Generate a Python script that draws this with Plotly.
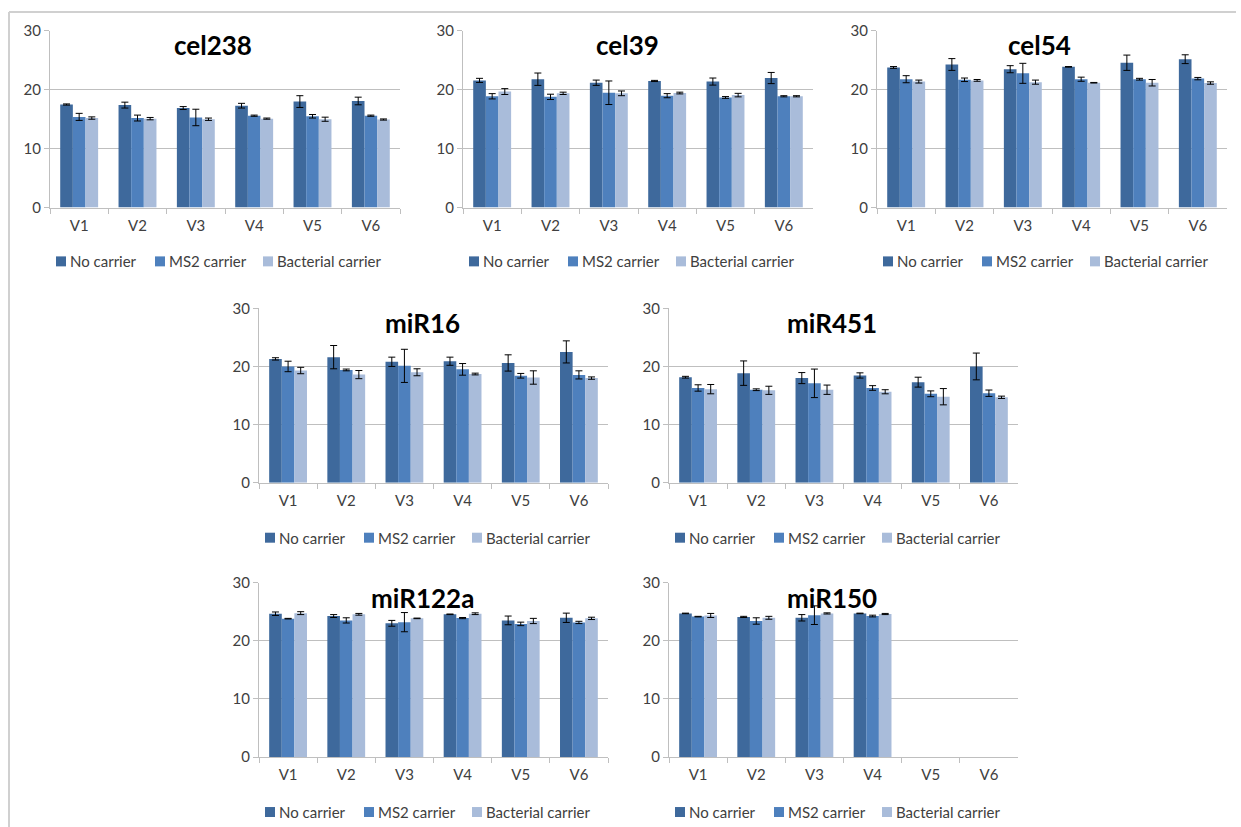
import plotly.graph_objects as go

# ---- data -----------------------------------------------------------------
categories = ["V1", "V2", "V3", "V4", "V5", "V6"]
series_names = ["No carrier", "MS2 carrier", "Bacterial carrier"]
series_colors = ["#3E699C", "#4E80BD", "#A9BCDA"]

cel238_no = [17.5, 17.4, 16.9, 17.3, 18.0, 18.1]
cel238_no_sd = [0.1, 0.5, 0.25, 0.4, 1.0, 0.65]
cel238_ms2 = [15.4, 15.2, 15.3, 15.6, 15.5, 15.6]
cel238_ms2_sd = [0.6, 0.5, 1.4, 0.1, 0.3, 0.1]
cel238_bac = [15.2, 15.1, 15.0, 15.1, 15.0, 14.95]
cel238_bac_sd = [0.2, 0.2, 0.2, 0.1, 0.35, 0.1]

cel39_no = [21.6, 21.8, 21.2, 21.5, 21.4, 22.0]
cel39_no_sd = [0.35, 1.05, 0.45, 0.1, 0.6, 0.95]
cel39_ms2 = [18.9, 18.8, 19.5, 19.0, 18.7, 18.9]
cel39_ms2_sd = [0.45, 0.45, 2.0, 0.35, 0.15, 0.1]
cel39_bac = [19.7, 19.4, 19.4, 19.45, 19.1, 18.9]
cel39_bac_sd = [0.5, 0.2, 0.4, 0.15, 0.3, 0.1]

cel54_no = [23.8, 24.3, 23.5, 23.9, 24.6, 25.2]
cel54_no_sd = [0.15, 1.0, 0.6, 0.05, 1.3, 0.75]
cel54_ms2 = [21.8, 21.7, 22.8, 21.8, 21.8, 21.9]
cel54_ms2_sd = [0.6, 0.3, 1.7, 0.35, 0.15, 0.2]
cel54_bac = [21.4, 21.6, 21.3, 21.2, 21.2, 21.15]
cel54_bac_sd = [0.25, 0.15, 0.35, 0.05, 0.55, 0.2]

miR16_no = [21.3, 21.6, 20.8, 20.9, 20.6, 22.5]
miR16_no_sd = [0.2, 2.0, 0.8, 0.7, 1.4, 1.9]
miR16_ms2 = [20.0, 19.4, 20.1, 19.5, 18.4, 18.55]
miR16_ms2_sd = [0.9, 0.15, 2.85, 1.0, 0.4, 0.7]
miR16_bac = [19.3, 18.6, 19.0, 18.7, 18.1, 18.0]
miR16_bac_sd = [0.55, 0.7, 0.6, 0.15, 1.15, 0.2]

miR451_no = [18.15, 18.85, 18.0, 18.45, 17.3, 20.0]
miR451_no_sd = [0.15, 2.1, 0.95, 0.45, 0.85, 2.3]
miR451_ms2 = [16.3, 16.0, 17.1, 16.3, 15.3, 15.4]
miR451_ms2_sd = [0.55, 0.15, 2.45, 0.4, 0.5, 0.55]
miR451_bac = [16.1, 15.9, 16.0, 15.65, 14.8, 14.7]
miR451_bac_sd = [0.8, 0.7, 0.8, 0.35, 1.4, 0.2]

miR122a_no = [24.65, 24.25, 23.0, 24.55, 23.5, 23.95]
miR122a_no_sd = [0.3, 0.25, 0.5, 0.05, 0.75, 0.8]
miR122a_ms2 = [23.8, 23.5, 23.2, 23.9, 22.9, 23.15]
miR122a_ms2_sd = [0.05, 0.45, 1.65, 0.1, 0.3, 0.2]
miR122a_bac = [24.75, 24.55, 23.85, 24.65, 23.4, 23.85]
miR122a_bac_sd = [0.25, 0.15, 0.05, 0.15, 0.45, 0.2]

miR150_no = [24.7, 24.1, 23.95, 24.7, None, None]
miR150_no_sd = [0.05, 0.1, 0.55, 0.05, None, None]
miR150_ms2 = [24.15, 23.4, 24.4, 24.25, None, None]
miR150_ms2_sd = [0.05, 0.55, 1.6, 0.15, None, None]
miR150_bac = [24.35, 23.95, 24.7, 24.6, None, None]
miR150_bac_sd = [0.35, 0.25, 0.1, 0.1, None, None]

panel_titles = ["cel238", "cel39", "cel54", "miR16", "miR451", "miR122a", "miR150"]
panel_series = [
    [(cel238_no, cel238_no_sd), (cel238_ms2, cel238_ms2_sd), (cel238_bac, cel238_bac_sd)],
    [(cel39_no, cel39_no_sd), (cel39_ms2, cel39_ms2_sd), (cel39_bac, cel39_bac_sd)],
    [(cel54_no, cel54_no_sd), (cel54_ms2, cel54_ms2_sd), (cel54_bac, cel54_bac_sd)],
    [(miR16_no, miR16_no_sd), (miR16_ms2, miR16_ms2_sd), (miR16_bac, miR16_bac_sd)],
    [(miR451_no, miR451_no_sd), (miR451_ms2, miR451_ms2_sd), (miR451_bac, miR451_bac_sd)],
    [(miR122a_no, miR122a_no_sd), (miR122a_ms2, miR122a_ms2_sd), (miR122a_bac, miR122a_bac_sd)],
    [(miR150_no, miR150_no_sd), (miR150_ms2, miR150_ms2_sd), (miR150_bac, miR150_bac_sd)],
]

# ---- layout geometry (page pixels) ----------------------------------------
W, H = 1241, 827
# plotly keeps a small band above and below the paper area
PAD_Y = 8
PAPER_H = H - 2 * PAD_Y

# plot area: left, right, top, bottom
plot_boxes = [
    (50, 400, 29, 206),
    (463, 813, 29, 206),
    (877, 1227, 29, 206),
    (259, 608, 307, 482),
    (669, 1018, 307, 482),
    (259, 608, 582, 757),
    (669, 1018, 582, 757),
]
title_pos = [(213, 43), (627, 43), (1039, 43), (422, 322), (832, 322), (422, 597), (832, 597)]
legend_pos = [(56, 260), (469, 260), (883, 260), (265, 537), (675, 537), (265, 812), (675, 812)]
legend_offsets = [0, 99, 207]

FONT = "Lato"
TEXT = "#404040"
GRID = "#BFBFBF"


def px_x(x):
    return x / W


def px_y(y):
    return 1 - (y - PAD_Y) / PAPER_H


fig = go.Figure()
annotations = []
shapes = []

for i, (title, series) in enumerate(zip(panel_titles, panel_series)):
    n = "" if i == 0 else str(i + 1)
    xa, ya = "x" + n, "y" + n
    for (vals, sd), name, color in zip(series, series_names, series_colors):
        fig.add_trace(go.Bar(
            x=categories, y=vals, name=name, xaxis=xa, yaxis=ya,
            marker=dict(color=color, line=dict(width=0)),
            error_y=dict(type="data", array=sd, visible=True,
                         color="#000000", thickness=1, width=3.5),
            showlegend=False,
        ))
    left, right, top, bottom = plot_boxes[i]
    fig.update_layout(**{
        "xaxis" + n: dict(
            domain=[px_x(left), px_x(right)], anchor=ya,
            type="category", showline=True, linecolor=GRID, linewidth=1,
            ticks="outside", tickson="boundaries", ticklen=5, tickcolor=GRID,
            showgrid=False, ticklabelstandoff=4,
            tickfont=dict(family=FONT, size=15, color=TEXT),
        ),
        "yaxis" + n: dict(
            domain=[px_y(bottom), px_y(top)], anchor=xa,
            range=[0, 30], dtick=10, tick0=0,
            showline=True, linecolor=GRID, linewidth=1,
            ticks="outside", ticklen=5, tickcolor=GRID,
            showgrid=True, gridcolor=GRID, gridwidth=1, zeroline=False,
            tickfont=dict(family=FONT, size=15, color=TEXT),
        ),
    })
    # panel title
    tx, ty = title_pos[i]
    annotations.append(dict(
        text="<b>%s</b>" % title, x=px_x(tx), y=px_y(ty),
        xref="paper", yref="paper", xanchor="center", yanchor="middle",
        showarrow=False, font=dict(family=FONT, size=26, color="#000000"),
    ))
    # legend keys
    lx, ly = legend_pos[i]
    for off, name, color in zip(legend_offsets, series_names, series_colors):
        sx = lx + off
        shapes.append(dict(
            type="rect", xref="paper", yref="paper",
            x0=px_x(sx), x1=px_x(sx + 10), y0=px_y(ly + 5), y1=px_y(ly - 5),
            fillcolor=color, line=dict(width=0),
        ))
        annotations.append(dict(
            text=name, x=px_x(sx + 12), y=px_y(ly),
            xref="paper", yref="paper", xanchor="left", yanchor="middle",
            showarrow=False, font=dict(family=FONT, size=15, color=TEXT),
        ))

# outer frame (top and left edges)
shapes.append(dict(type="line", xref="paper", yref="paper",
                   x0=px_x(9), x1=px_x(1236), y0=px_y(10), y1=px_y(10),
                   line=dict(color="#D0D0D0", width=2)))
shapes.append(dict(type="line", xref="paper", yref="paper",
                   x0=px_x(9), x1=px_x(9), y0=px_y(10), y1=px_y(827),
                   line=dict(color="#D0D0D0", width=2)))

fig.update_layout(
    width=W, height=H,
    margin=dict(l=0, r=0, t=0, b=0),
    paper_bgcolor="white", plot_bgcolor="white",
    barmode="group", bargap=0.35, bargroupgap=0,
    annotations=annotations, shapes=shapes,
    font=dict(family=FONT, color=TEXT),
)

fig.write_html("out.html")
